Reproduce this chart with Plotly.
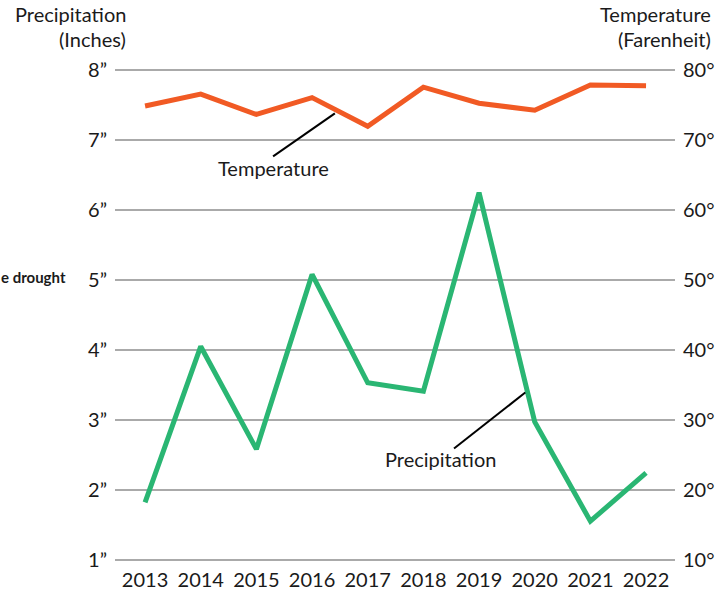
import plotly.graph_objects as go

years = [2013, 2014, 2015, 2016, 2017, 2018, 2019, 2020, 2021, 2022]
precipitation = [1.82, 4.05, 2.58, 5.08, 3.53, 3.41, 6.25, 2.97, 1.55, 2.24]
temperature = [74.9, 76.6, 73.7, 76.1, 72.0, 77.6, 75.3, 74.3, 77.9, 77.8]

precip_ticks = [1, 2, 3, 4, 5, 6, 7, 8]
precip_labels = ["1”", "2”", "3”", "4”", "5”", "6”", "7”", "8”"]
temp_ticks = [10, 20, 30, 40, 50, 60, 70, 80]
temp_labels = ["10°", "20°", "30°", "40°", "50°", "60°", "70°", "80°"]

ORANGE = "#F15A24"
GREEN = "#2AB673"
FONT = "Lato"
TXT = "#1a1a1a"
FS = 20

W, H = 718, 590
L, R = 115, 675
TOP, BOT = 68.6, 561.4

def px_to_paper_y(py):
    return (BOT - py) / (BOT - TOP)

def px_to_paper_x(px):
    return (px - L) / (R - L)

fig = go.Figure()
fig.add_trace(go.Scatter(x=years, y=precipitation, mode="lines",
                         line=dict(color=GREEN, width=5), yaxis="y", showlegend=False))
fig.add_trace(go.Scatter(x=years, y=temperature, mode="lines",
                         line=dict(color=ORANGE, width=5), yaxis="y2", showlegend=False))

fig.update_layout(
    width=W, height=H, autosize=False,
    margin=dict(l=L, r=W - R, t=TOP, b=H - BOT, pad=0, autoexpand=False),
    paper_bgcolor="white", plot_bgcolor="white",
    font=dict(family=FONT, size=FS, color=TXT),
    xaxis=dict(range=[2012.46, 2022.52], tickmode="array", tickvals=years,
               ticktext=[str(y) for y in years], showgrid=False, zeroline=False,
               showline=False, ticks="", ticklabelstandoff=5, automargin=False,
               tickfont=dict(family=FONT, size=FS, color=TXT)),
    yaxis=dict(range=[0.98, 8.02], tickmode="array", tickvals=precip_ticks,
               ticktext=precip_labels, showgrid=True, gridcolor="#aaaaaa",
               gridwidth=1.5, zeroline=False, showline=False, ticks="",
               ticklabelstandoff=7, automargin=False,
               tickfont=dict(family=FONT, size=FS, color=TXT)),
    yaxis2=dict(range=[9.8, 80.2], tickmode="array", tickvals=temp_ticks,
                ticktext=temp_labels, overlaying="y", side="right", showgrid=False,
                zeroline=False, showline=False, ticks="", ticklabelstandoff=7,
                automargin=False, tickfont=dict(family=FONT, size=FS, color=TXT)),
)

# leader lines
fig.add_shape(type="line", xref="x", yref="y2", x0=2016.41, y0=73.86, x1=2015.30, y1=67.7,
              line=dict(color="black", width=2))
fig.add_shape(type="line", xref="x", yref="y", x0=2019.83, y0=3.39, x1=2018.55, y1=2.59,
              line=dict(color="black", width=2))

fig.add_annotation(xref="x", yref="y2", x=2015.30, y=66.1, text="Temperature",
                   showarrow=False, font=dict(family=FONT, size=FS, color=TXT))
fig.add_annotation(xref="x", yref="y", x=2018.30, y=2.44, text="Precipitation",
                   showarrow=False, font=dict(family=FONT, size=FS, color=TXT))

# axis titles
fig.add_annotation(xref="paper", yref="paper", x=px_to_paper_x(128), y=px_to_paper_y(14),
                   xanchor="right", yanchor="middle", text="Precipitation", showarrow=False)
fig.add_annotation(xref="paper", yref="paper", x=px_to_paper_x(128), y=px_to_paper_y(39),
                   xanchor="right", yanchor="middle", text="(Inches)", showarrow=False)
fig.add_annotation(xref="paper", yref="paper", x=px_to_paper_x(713), y=px_to_paper_y(14),
                   xanchor="right", yanchor="middle", text="Temperature", showarrow=False)
fig.add_annotation(xref="paper", yref="paper", x=px_to_paper_x(713), y=px_to_paper_y(39),
                   xanchor="right", yanchor="middle", text="(Farenheit)", showarrow=False)

# side label (cut at the left edge in the reference)
fig.add_annotation(xref="paper", yref="paper", x=px_to_paper_x(68), y=px_to_paper_y(277),
                   xanchor="right", yanchor="middle", text="<b>e drought</b>",
                   showarrow=False, font=dict(family=FONT, size=15, color=TXT))

fig.write_html(
    "out.html",
    config={"displayModeBar": False},
    post_script="document.body.style.margin='0';",
)
